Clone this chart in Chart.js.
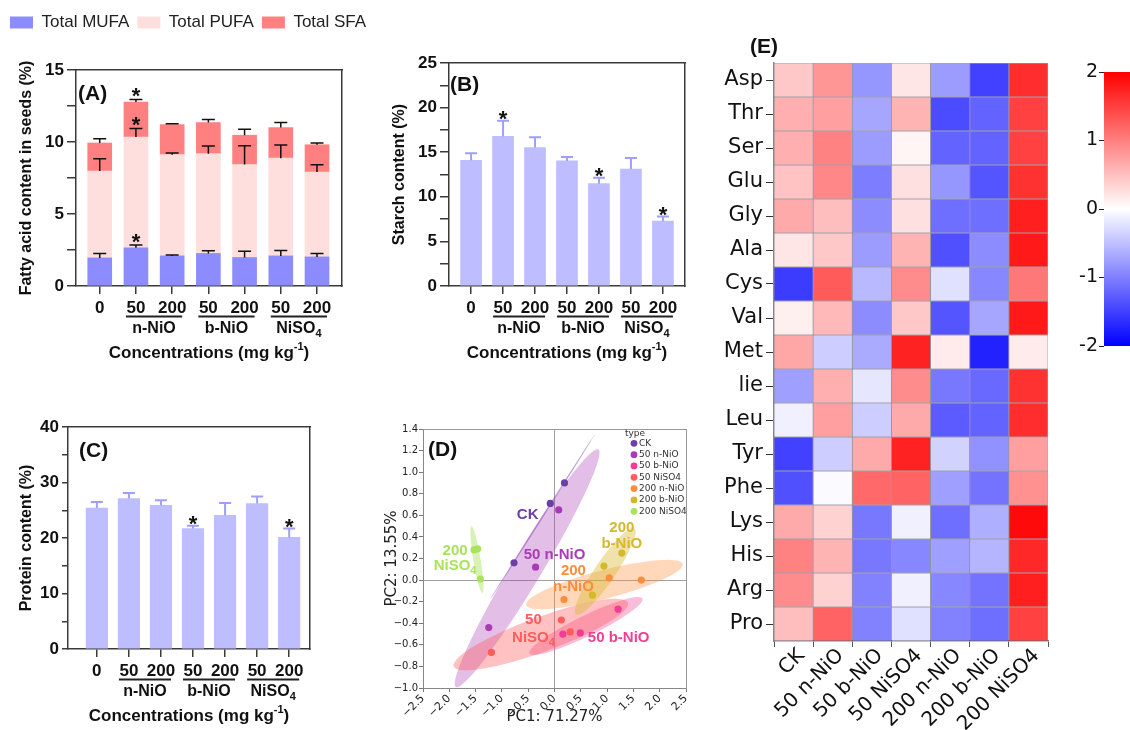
<!DOCTYPE html>
<html>
<head>
<meta charset="utf-8">
<script src="https://cdn.jsdelivr.net/npm/chart.js@4.4.1/dist/chart.umd.min.js"></script>
<style>
  html, body { margin: 0; padding: 0; background: #fff; width: 1130px; height: 730px; overflow: hidden; }
  canvas { position: absolute; }
</style>
</head>
<body>
<canvas id="chartA" width="400" height="372" style="left:2px;top:0px"></canvas>
<canvas id="chartB" width="320" height="340" style="left:380px;top:40px"></canvas>
<canvas id="chartC" width="330" height="320" style="left:0px;top:410px"></canvas>
<canvas id="chartD" width="330" height="320" style="left:380px;top:410px"></canvas>
<canvas id="chartE" width="340" height="700" style="left:720px;top:30px"></canvas>
<canvas id="chartCB" width="75" height="310" style="left:1060px;top:50px"></canvas>
<script>
// ---- data: bar panels (A, B, C) ----
const concLabels = ['0', '50', '200', '50', '200', '50', '200'];
const groupNames = ['n-NiO', 'b-NiO', 'NiSO4'];
const groupSpans = [[1, 2], [3, 4], [5, 6]];

const mufa = [1.95, 2.65, 2.09, 2.26, 1.98, 2.09, 2.02];
const mufaSd = [0.31, 0.19, 0.07, 0.18, 0.44, 0.38, 0.24];
const mufaStars = [0, 1, 0, 0, 0, 0, 0];
const pufa = [6.03, 7.70, 7.03, 6.93, 6.46, 6.79, 5.89];
const pufaSd = [0.86, 0.58, 0.11, 0.53, 1.30, 0.91, 0.51];
const pufaStars = [0, 1, 0, 0, 0, 0, 0];
const sfa = [1.95, 2.42, 2.09, 2.16, 2.03, 2.12, 1.90];
const sfaSd = [0.30, 0.18, 0.05, 0.21, 0.41, 0.35, 0.12];
const sfaStars = [0, 1, 0, 0, 0, 0, 0];

const starch = [14.09, 16.79, 15.52, 14.02, 11.47, 13.12, 7.27];
const starchSd = [0.79, 1.73, 1.16, 0.45, 0.67, 1.24, 0.53];
const starchStars = [0, 1, 0, 0, 1, 0, 1];

const protein = [25.4, 27.1, 25.9, 21.7, 24.1, 26.2, 20.1];
const proteinSd = [1.1, 1.0, 0.9, 0.5, 2.2, 1.3, 1.6];
const proteinStars = [0, 0, 0, 1, 0, 0, 1];

// ---- data: PCA (D) ----
const pcaGroups = ['CK', '50 n-NiO', '50 b-NiO', '50 NiSO4', '200 n-NiO', '200 b-NiO', '200 NiSO4'];
const pc1 = [
  [0.19, -0.08, -0.77],
  [0.08, -0.36, -1.25],
  [0.16, 0.49, 1.21],
  [0.13, 0.30, -1.20],
  [1.04, 1.65, 0.18],
  [1.28, 0.94, 0.72],
  [-1.53, -1.46, -1.41]
];
const pc2 = [
  [0.90, 0.71, 0.16],
  [0.65, 0.12, -0.44],
  [-0.50, -0.49, -0.27],
  [-0.37, -0.48, -0.67],
  [0.02, 0.00, -0.18],
  [0.25, 0.13, -0.14],
  [0.28, 0.29, 0.01]
];
// confidence ellipses: centre, major half-axis, minor half-axis (PC units)
const ellipseCentre = [[-0.23, 0.585], [-0.52, 0.11], [0.60, -0.425], [-0.26, -0.505], [0.95, -0.04], [0.965, 0.08], [-1.475, 0.19]];
const ellipseMajor = [[0.99, 0.76], [1.355, 1.10], [1.075, 0.255], [1.655, 0.295], [1.49, 0.19], [0.555, 0.40], [0.105, -0.31]];
const ellipseMinor = [[0.013, -0.004], [0.244, -0.072], [0.086, -0.086], [0.113, -0.151], [0.069, -0.128], [0.163, -0.054], [0.068, 0.006]];

// ---- data: heatmap (E) ----
const aminoAcids = ['Asp', 'Thr', 'Ser', 'Glu', 'Gly', 'Ala', 'Cys', 'Val', 'Met', 'lie', 'Leu', 'Tyr', 'Phe', 'Lys', 'His', 'Arg', 'Pro'];
const treatments = ['CK', '50 n-NiO', '50 b-NiO', '50 NiSO4', '200 n-NiO', '200 b-NiO', '200 NiSO4'];
const zScores = [
  [0.43, 0.82, -0.82, 0.20, -0.78, -1.49, 1.65],
  [0.63, 0.75, -0.70, 0.59, -1.41, -1.22, 1.49],
  [0.63, 0.98, -0.78, 0.08, -1.22, -1.22, 1.49],
  [0.47, 0.94, -1.02, 0.24, -0.82, -1.33, 1.61],
  [0.67, 0.51, -0.90, 0.24, -1.14, -1.14, 1.76],
  [0.20, 0.43, -0.78, 0.59, -1.37, -0.90, 1.80],
  [-1.53, 1.29, -0.55, 0.90, -0.24, -0.94, 1.06],
  [0.12, 0.55, -0.90, 0.43, -1.33, -0.70, 1.80],
  [0.70, -0.39, -0.67, 1.73, 0.16, -1.73, 0.16],
  [-0.75, 0.63, -0.20, 0.90, -1.06, -1.18, 1.61],
  [-0.12, 0.75, -0.39, 0.67, -1.29, -1.22, 1.65],
  [-1.49, -0.39, 0.67, 1.73, -0.35, -0.86, 0.75],
  [-1.37, -0.04, 1.18, 1.22, -0.75, -1.10, 0.86],
  [0.67, 0.35, -1.06, -0.12, -1.14, -0.63, 1.92],
  [0.98, 0.59, -1.06, -0.94, -0.75, -0.59, 1.69],
  [0.90, 0.35, -0.98, -0.12, -0.94, -1.10, 1.76],
  [0.51, 1.22, -0.98, -0.24, -0.98, -1.14, 1.49]
];
const colorbarRange = [-2, 2];

// ---- styling ----
const ARIAL = '"Liberation Sans", Arial, Helvetica, sans-serif';
const GOTHIC = '"DejaVu Sans", "Liberation Sans", sans-serif';
const axisColor = '#3a3a3a';
const pcaColors = ['#6b3fa8', '#a93bb6', '#ee3f93', '#ff5c5c', '#ff8c3a', '#d6b82c', '#a8e35a'];
const pcaFills = ['rgba(107,63,168,0.45)', 'rgba(169,59,182,0.33)', 'rgba(238,63,147,0.35)', 'rgba(255,92,92,0.38)',
  'rgba(255,140,58,0.35)', 'rgba(214,184,44,0.4)', 'rgba(168,227,90,0.45)'];

Chart.defaults.font.family = ARIAL;
Chart.defaults.color = '#111';

const fontStr = (size, bold) => `${bold ? 'bold ' : ''}${size}px ${ARIAL}`;

// draws a row of text pieces centred on (cx, cy); pieces may be raised or lowered
function drawParts(ctx, parts, cx, cy) {
  let total = 0;
  parts.forEach(p => { ctx.font = fontStr(p.size, true); p.w = ctx.measureText(p.text).width; total += p.w; });
  let x = cx - total / 2;
  ctx.textAlign = 'left';
  ctx.textBaseline = 'middle';
  parts.forEach(p => {
    ctx.font = fontStr(p.size, true);
    ctx.fillText(p.text, x, cy + (p.dy || 0));
    x += p.w;
  });
}

// "NiSO4" -> NiSO with a subscript 4
function chemParts(text, size) {
  const m = text.match(/^(.*[A-Z])(\d+)$/);
  if (m) return [{ text: m[1], size }, { text: m[2], size: Math.round(size * 0.7), dy: size * 0.3 }];
  return [{ text, size }];
}

const xy = values => values.map((v, i) => ({ x: i, y: v }));

function makeBarDecor(cfg) {
  return {
    id: 'barDecor',
    afterDatasetsDraw(chart) {
      const { ctx } = chart;
      const y = chart.scales.y;
      chart.data.datasets.forEach((ds, di) => {
        chart.getDatasetMeta(di).data.forEach((bar, i) => {
          const len = y.getPixelForValue(0) - y.getPixelForValue(ds.errors[i]);
          const top = bar.y - len;
          ctx.save();
          ctx.strokeStyle = cfg.errColor;
          ctx.lineWidth = cfg.errWidth;
          ctx.beginPath();
          ctx.moveTo(bar.x, bar.y);
          ctx.lineTo(bar.x, top);
          ctx.moveTo(bar.x - cfg.cap / 2, top);
          ctx.lineTo(bar.x + cfg.cap / 2, top);
          ctx.stroke();
          if (ds.stars[i]) {
            ctx.fillStyle = '#111';
            ctx.font = fontStr(22, true);
            ctx.textAlign = 'center';
            ctx.textBaseline = 'alphabetic';
            ctx.fillText('*', bar.x, top - cfg.starGap + 12.6);
          }
          ctx.restore();
        });
      });
    },
    afterDraw(chart) {
      const { ctx, chartArea } = chart;
      const x = chart.scales.x;
      const b = chartArea.bottom;
      ctx.save();
      ctx.fillStyle = '#111';
      ctx.strokeStyle = '#222';
      ctx.lineWidth = 2;
      groupNames.forEach((name, g) => {
        const x0 = x.getPixelForValue(groupSpans[g][0]) - 10;
        const x1 = x.getPixelForValue(groupSpans[g][1]) + 10;
        ctx.beginPath();
        ctx.moveTo(x0, b + 30.5);
        ctx.lineTo(x1, b + 30.5);
        ctx.stroke();
        drawParts(ctx, chemParts(name, 16), (x0 + x1) / 2, b + 43);
      });
      drawParts(ctx, [
        { text: 'Concentrations (mg kg', size: 17 },
        { text: '-1', size: 11, dy: -6 },
        { text: ')', size: 17 }
      ], (chartArea.left + chartArea.right) / 2, b + 67);
      ctx.font = fontStr(21, true);
      ctx.textAlign = 'left';
      ctx.textBaseline = 'middle';
      ctx.fillText(cfg.panel, chartArea.left + cfg.panelDx, chartArea.top + cfg.panelDy);
      ctx.restore();
    }
  };
}

function frameScales(topGap, rightWidth, color, width) {
  return {
    xTop: {
      type: 'linear', position: 'top',
      grid: { display: false, drawTicks: false }, ticks: { display: false },
      border: { display: true, color, width },
      afterFit: s => { s.height = topGap; }
    },
    yRight: {
      type: 'linear', position: 'right',
      grid: { display: false, drawTicks: false }, ticks: { display: false },
      border: { display: true, color, width },
      afterFit: s => { s.width = rightWidth; }
    }
  };
}

function concAxis(min, max, height, stacked) {
  return {
    type: 'linear', min, max, stacked, offset: false,
    afterBuildTicks: s => { s.ticks = concLabels.map((_, i) => ({ value: i })); },
    ticks: { autoSkip: false, maxRotation: 0, callback: v => concLabels[v], font: { size: 17, weight: 'bold' }, color: '#111', padding: 4 },
    grid: { offset: false, drawOnChartArea: false, tickLength: 8, color: axisColor, lineWidth: 1.5 },
    border: { color: axisColor, width: 1.5 },
    afterFit: s => { s.height = height; }
  };
}

function valueAxis(max, step, labelStep, title, titlePad, width, tickLen, stacked) {
  return {
    min: 0, max, stacked,
    ticks: { stepSize: step, autoSkip: false, callback: v => (v % labelStep === 0 ? v : ''), font: { size: 17, weight: 'bold' }, color: '#111', padding: 3 },
    grid: { drawOnChartArea: false, tickLength: tickLen, color: axisColor, lineWidth: 1.5 },
    border: { color: axisColor, width: 1.5 },
    title: { display: true, text: title, font: { size: 16, weight: 'bold' }, color: '#111', padding: { top: titlePad, bottom: 0 } },
    afterFit: s => { s.width = width; }
  };
}

const noTips = { legend: { display: false }, tooltip: { enabled: false } };

// ---- (A) fatty acids, stacked ----
new Chart(document.getElementById('chartA'), {
  type: 'bar',
  data: {
    datasets: [
      { label: 'Total MUFA', data: xy(mufa), backgroundColor: '#8c8cff', errors: mufaSd, stars: mufaStars, barThickness: 24, borderWidth: 0 },
      { label: 'Total PUFA', data: xy(pufa), backgroundColor: '#ffdede', errors: pufaSd, stars: pufaStars, barThickness: 24, borderWidth: 0 },
      { label: 'Total SFA', data: xy(sfa), backgroundColor: '#ff8080', errors: sfaSd, stars: sfaStars, barThickness: 24, borderWidth: 0 }
    ]
  },
  options: {
    responsive: false, animation: false, devicePixelRatio: 1,
    layout: { padding: { left: 0, right: 0, top: 6, bottom: 0 }, autoPadding: false },
    plugins: {
      tooltip: { enabled: false },
      legend: {
        position: 'top', align: 'start',
        labels: { boxWidth: 23, boxHeight: 12, padding: 8, color: '#222', font: { size: 17 } }
      }
    },
    scales: {
      x: concAxis(-0.655, 6.69, 86, true),
      y: valueAxis(15, 2.5, 5, 'Fatty acid content in seeds (%)', 15.4, 74, 9, true),
      ...frameScales(29, 60, axisColor, 1.5)
    }
  },
  plugins: [makeBarDecor({ panel: '(A)', panelDx: 2, panelDy: 24, errColor: '#111', errWidth: 1.5, cap: 13, starGap: 9 })]
});

// ---- (B) starch ----
new Chart(document.getElementById('chartB'), {
  type: 'bar',
  data: {
    datasets: [{ label: 'Starch', data: xy(starch), backgroundColor: '#bdbdff', errors: starchSd, stars: starchStars, barThickness: 21, borderWidth: 0 }]
  },
  options: {
    responsive: false, animation: false, devicePixelRatio: 1,
    layout: { padding: { left: 0, right: 0, top: 23, bottom: 0 }, autoPadding: false },
    plugins: noTips,
    scales: {
      x: concAxis(-0.69, 6.69, 94, false),
      y: valueAxis(25, 2.5, 5, 'Starch content (%)', 10.4, 69, 9, false),
      ...frameScales(0, 15, axisColor, 1.5)
    }
  },
  plugins: [makeBarDecor({ panel: '(B)', panelDx: 1, panelDy: 22, errColor: '#9f9fff', errWidth: 2, cap: 12, starGap: 7 })]
});

// ---- (C) protein ----
new Chart(document.getElementById('chartC'), {
  type: 'bar',
  data: {
    datasets: [{ label: 'Protein', data: xy(protein), backgroundColor: '#bdbdff', errors: proteinSd, stars: proteinStars, barThickness: 21.5, borderWidth: 0 }]
  },
  options: {
    responsive: false, animation: false, devicePixelRatio: 1,
    layout: { padding: { left: 0, right: 0, top: 17, bottom: 0 }, autoPadding: false },
    plugins: noTips,
    scales: {
      x: concAxis(-0.9, 6.65, 81, false),
      y: valueAxis(40, 5, 10, 'Protein content (%)', 17.4, 68, 6, false),
      ...frameScales(0, 20, axisColor, 1.5)
    }
  },
  plugins: [makeBarDecor({ panel: '(C)', panelDx: 11, panelDy: 24, errColor: '#9f9fff', errWidth: 2, cap: 12, starGap: 7 })]
});

// ---- (D) PCA ----
const fmt1 = v => {
  const r = Math.round(v * 10) / 10;
  return (r < 0 ? '\u2212' : '') + Math.abs(r).toFixed(1);
};
const zeroLine = c => (c.tick && Math.abs(c.tick.value) < 1e-9 ? '#a0a0a0' : 'rgba(0,0,0,0)');
const pcaNotes = [
  { g: 0, lines: ['CK'], x: -0.51, y: [0.60] },
  { g: 1, lines: ['50 n-NiO'], x: 0.0, y: [0.235] },
  { g: 5, lines: ['200', 'b-NiO'], x: 1.28, y: [0.48, 0.34] },
  { g: 4, lines: ['200', 'n-NiO'], x: 0.36, y: [0.09, -0.06] },
  { g: 6, lines: ['200', 'NiSO4'], x: -1.89, y: [0.27, 0.13] },
  { g: 3, lines: ['50', 'NiSO4'], x: -0.40, y: [-0.37, -0.54] },
  { g: 2, lines: ['50 b-NiO'], x: 1.22, y: [-0.54] }
];

const pcaDecor = {
  id: 'pcaDecor',
  beforeDatasetsDraw(chart) {
    const { ctx, chartArea } = chart;
    const sx = chart.scales.x, sy = chart.scales.y;
    ctx.save();
    ctx.beginPath();
    ctx.rect(chartArea.left, chartArea.top, chartArea.right - chartArea.left, chartArea.bottom - chartArea.top);
    ctx.clip();
    ellipseCentre.forEach((c, k) => {
      const px = sx.getPixelForValue(c[0]), py = sy.getPixelForValue(c[1]);
      const ax = sx.getPixelForValue(c[0] + ellipseMajor[k][0]) - px;
      const ay = sy.getPixelForValue(c[1] + ellipseMajor[k][1]) - py;
      const bx = sx.getPixelForValue(c[0] + ellipseMinor[k][0]) - px;
      const by = sy.getPixelForValue(c[1] + ellipseMinor[k][1]) - py;
      ctx.save();
      ctx.beginPath();
      ctx.transform(ax, ay, bx, by, px, py);
      ctx.arc(0, 0, 1, 0, Math.PI * 2);
      ctx.restore();
      ctx.fillStyle = pcaFills[k];
      ctx.fill();
    });
    ctx.restore();
  },
  afterDatasetsDraw(chart) {
    const { ctx, chartArea } = chart;
    const sx = chart.scales.x, sy = chart.scales.y;
    ctx.save();
    pcaNotes.forEach(n => {
      ctx.fillStyle = pcaColors[n.g];
      n.lines.forEach((t, j) => drawParts(ctx, chemParts(t, 15), sx.getPixelForValue(n.x), sy.getPixelForValue(n.y[j])));
    });
    // legend
    ctx.font = `9px ${GOTHIC}`;
    ctx.textAlign = 'left';
    ctx.textBaseline = 'middle';
    ctx.fillStyle = '#333';
    ctx.fillText('type', chartArea.right - 61, chartArea.top + 5);
    pcaGroups.forEach((g, k) => {
      const cy = chartArea.top + 14.3 + k * 11.33;
      ctx.fillStyle = pcaColors[k];
      ctx.beginPath();
      ctx.arc(chartArea.right - 52, cy, 3.4, 0, Math.PI * 2);
      ctx.fill();
      ctx.fillStyle = '#333';
      ctx.fillText(g, chartArea.right - 47, cy);
    });
    ctx.fillStyle = '#111';
    ctx.font = fontStr(21, true);
    ctx.fillText('(D)', chartArea.left + 5, chartArea.top + 21);
    ctx.restore();
  }
};

new Chart(document.getElementById('chartD'), {
  type: 'scatter',
  data: {
    datasets: pcaGroups.map((g, k) => ({
      label: g,
      data: pc1[k].map((x, i) => ({ x, y: pc2[k][i] })),
      backgroundColor: pcaColors[k], borderColor: pcaColors[k],
      pointRadius: 3.6, pointBorderWidth: 0
    }))
  },
  options: {
    responsive: false, animation: false, devicePixelRatio: 1,
    layout: { padding: { left: 0, right: 0, top: 19, bottom: 0 }, autoPadding: false },
    plugins: noTips,
    scales: {
      x: {
        type: 'linear', min: -2.5, max: 2.5,
        ticks: { stepSize: 0.5, callback: fmt1, minRotation: 45, maxRotation: 45, font: { size: 11, family: GOTHIC }, color: '#222', padding: 0 },
        grid: { color: zeroLine, tickColor: '#777', tickLength: 4 },
        border: { color: '#888' },
        title: { display: true, text: 'PC1: 71.27%', font: { size: 15, family: GOTHIC }, color: '#222', padding: { top: 0, bottom: 4 } },
        afterFit: s => { s.height = 42; }
      },
      y: {
        type: 'linear', min: -1.0, max: 1.4,
        ticks: { stepSize: 0.2, callback: fmt1, font: { size: 10, family: GOTHIC }, color: '#222', padding: 1 },
        grid: { color: zeroLine, tickColor: '#777', tickLength: 4 },
        border: { color: '#888' },
        title: { display: true, text: 'PC2: 13.55%', font: { size: 15, family: GOTHIC }, color: '#222', padding: { top: 3, bottom: 0 } },
        afterFit: s => { s.width = 43; }
      },
      ...frameScales(0, 24, '#999', 1)
    }
  },
  plugins: [pcaDecor]
});

// ---- (E) heatmap ----
function heatColor(v) {
  const t = Math.min(Math.abs(v) / 2, 1);
  const c = Math.round(255 * (1 - t));
  return v >= 0 ? `rgb(255,${c},${c})` : `rgb(${c},${c},255)`;
}

const heatDecor = {
  id: 'heatDecor',
  afterDraw(chart) {
    const { ctx } = chart;
    ctx.save();
    ctx.fillStyle = '#111';
    ctx.font = fontStr(21, true);
    ctx.textAlign = 'left';
    ctx.textBaseline = 'middle';
    ctx.fillText('(E)', 30, 17);
    ctx.restore();
  }
};

new Chart(document.getElementById('chartE'), {
  type: 'bar',
  data: {
    labels: treatments,
    datasets: aminoAcids.map((aa, r) => ({
      label: aa,
      data: treatments.map(() => [r, r + 1]),
      backgroundColor: zScores[r].map(heatColor),
      borderColor: 'rgba(60,60,80,0.45)', borderWidth: 0.8, borderSkipped: false,
      grouped: false, barPercentage: 1, categoryPercentage: 1
    }))
  },
  options: {
    responsive: false, animation: false, devicePixelRatio: 1,
    layout: { padding: { left: 0, right: 12, top: 33, bottom: 0 }, autoPadding: false },
    plugins: noTips,
    scales: {
      x: {
        ticks: { autoSkip: false, minRotation: 45, maxRotation: 45, labelOffset: 8, font: { size: 20, family: GOTHIC }, color: '#111', padding: -3 },
        grid: { drawOnChartArea: false, tickLength: 6, color: '#555' },
        border: { color: '#888', width: 1.5 },
        afterFit: s => { s.height = 89; }
      },
      y: {
        type: 'linear', min: 0, max: aminoAcids.length, reverse: true,
        afterBuildTicks: s => { s.ticks = aminoAcids.map((_, i) => ({ value: i + 0.5 })); },
        ticks: { autoSkip: false, callback: (v, i) => aminoAcids[i], font: { size: 21, family: GOTHIC }, color: '#111', padding: 3 },
        grid: { drawOnChartArea: false, tickLength: 8, color: '#333' },
        border: { color: '#888', width: 1.5 },
        afterFit: s => { s.width = 54; }
      }
    }
  },
  plugins: [heatDecor]
});

// ---- colour bar ----
new Chart(document.getElementById('chartCB'), {
  type: 'bar',
  data: {
    labels: [''],
    datasets: [{
      data: [colorbarRange],
      backgroundColor: c => {
        const { chart } = c;
        const area = chart.chartArea;
        if (!area) return null;
        const g = chart.ctx.createLinearGradient(0, area.bottom, 0, area.top);
        g.addColorStop(0, heatColor(colorbarRange[0]));
        g.addColorStop(0.5, heatColor(0));
        g.addColorStop(1, heatColor(colorbarRange[1]));
        return g;
      },
      barPercentage: 1, categoryPercentage: 1, borderWidth: 0
    }]
  },
  options: {
    responsive: false, animation: false, devicePixelRatio: 1,
    layout: { padding: { left: 0, right: 0, top: 22, bottom: 14 }, autoPadding: false },
    plugins: noTips,
    scales: {
      x: { display: false },
      y: {
        min: colorbarRange[0], max: colorbarRange[1],
        ticks: { stepSize: 1, font: { size: 19, family: GOTHIC }, color: '#111', padding: 1 },
        grid: { drawOnChartArea: false, tickLength: 5, color: '#222' },
        border: { display: false },
        afterFit: s => { s.width = 44; }
      }
    }
  }
});
</script>
</body>
</html>
